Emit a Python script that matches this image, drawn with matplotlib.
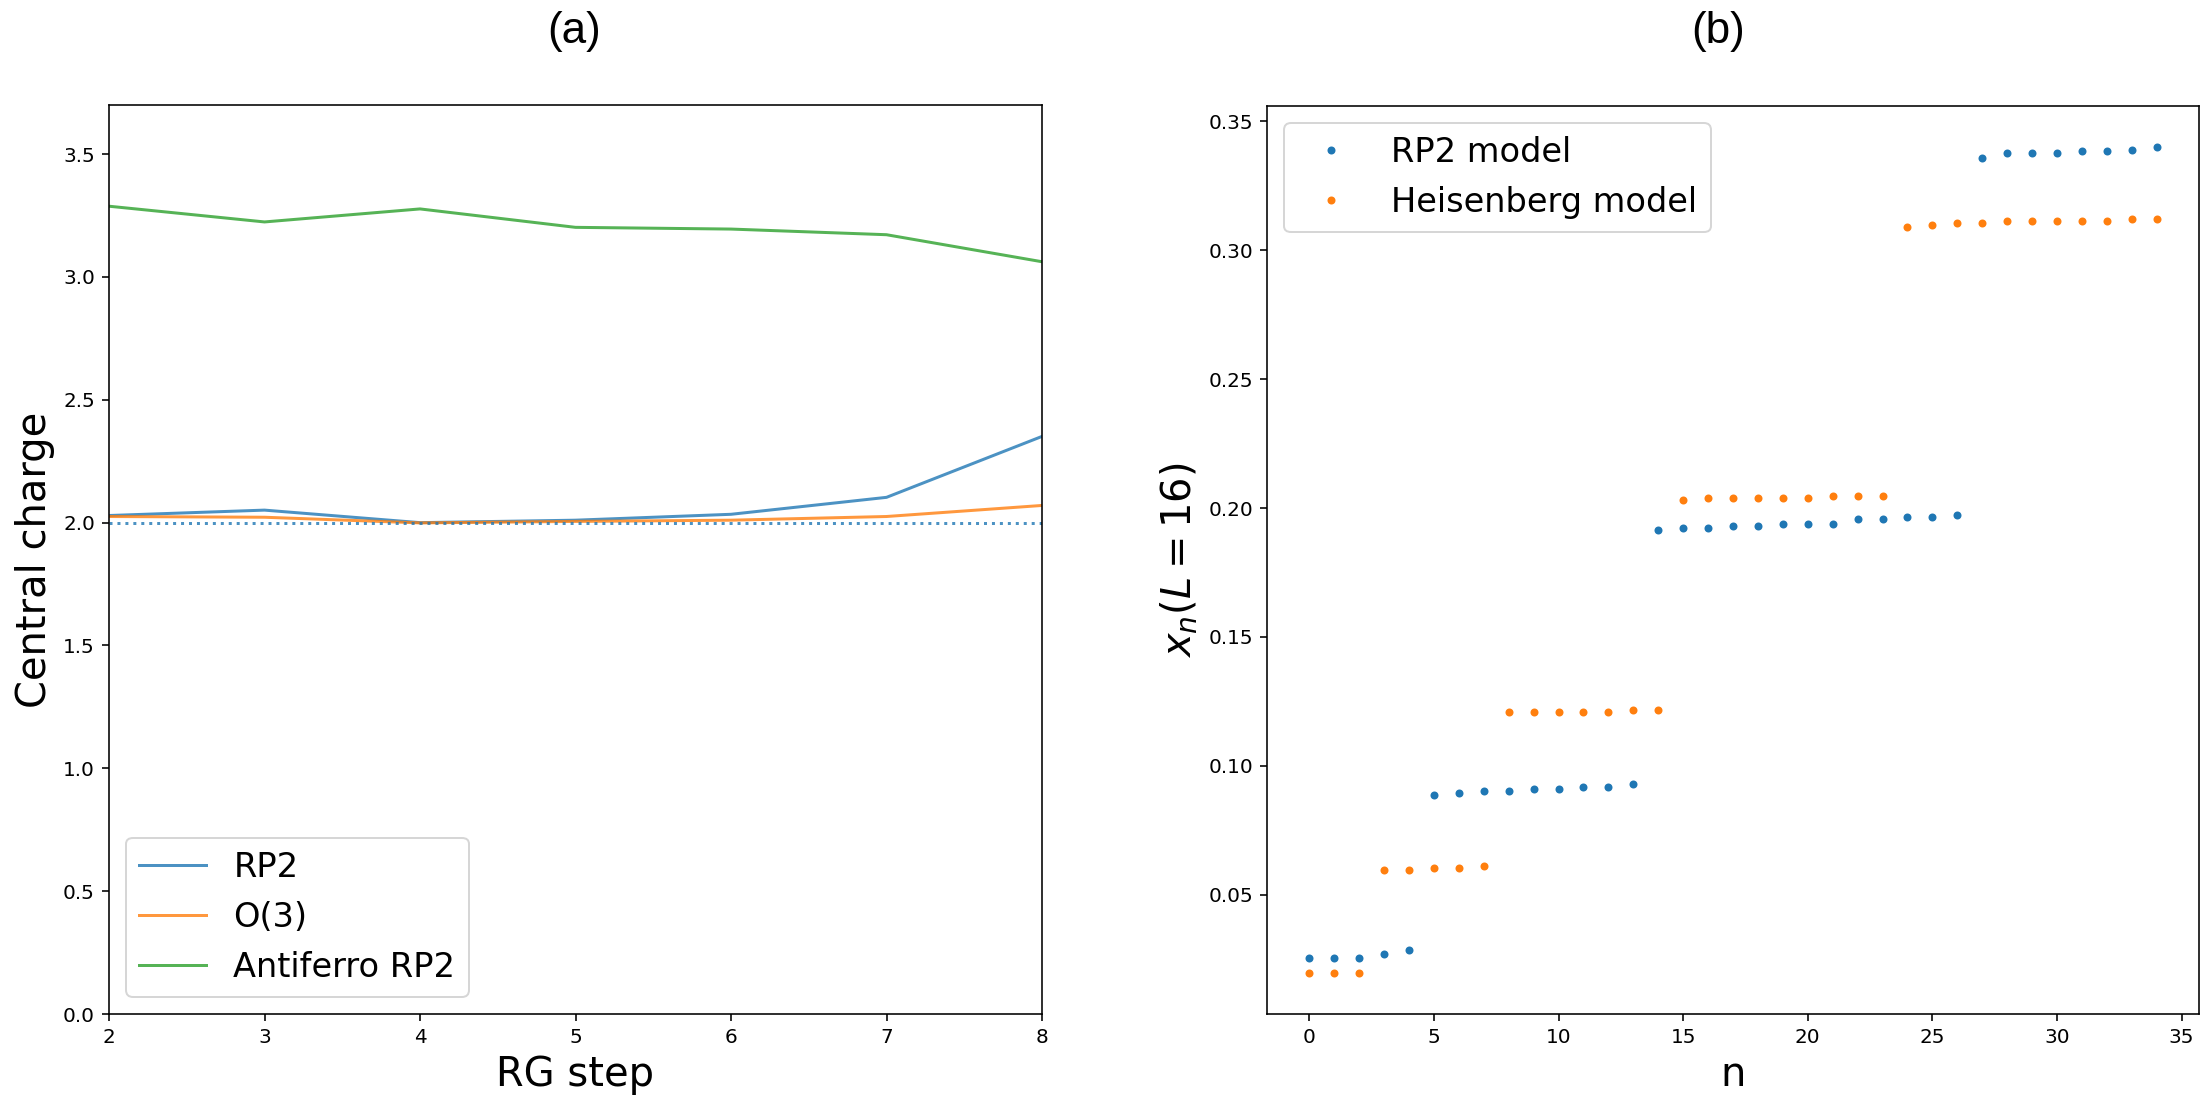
import matplotlib
matplotlib.use("Agg")
import matplotlib.pyplot as plt
import numpy as np

# Panel (a) data
rg_steps = [2, 3, 4, 5, 6, 7, 8]
c_rp2 = [2.029, 2.051, 2.000, 2.010, 2.034, 2.103, 2.351]
c_o3 = [2.025, 2.022, 1.999, 2.005, 2.010, 2.025, 2.070]
c_afrp2 = [3.288, 3.224, 3.277, 3.202, 3.195, 3.172, 3.062]
c_ref = 2.0

# Panel (b) data
n_vals = list(range(35))
x_rp2 = [0.0255, 0.0255, 0.0255, 0.0271, 0.0287,
         0.0888, 0.0895, 0.0903, 0.0903, 0.0911, 0.0911, 0.0920, 0.0920, 0.0928,
         0.1916, 0.1923, 0.1923, 0.1931, 0.1931, 0.1940, 0.1940, 0.1940, 0.1956,
         0.1956, 0.1964, 0.1964, 0.1973,
         0.3358, 0.3375, 0.3375, 0.3375, 0.3383, 0.3383, 0.3390, 0.3399]
x_heis = [0.0198, 0.0198, 0.0198,
          0.0596, 0.0596, 0.0603, 0.0603, 0.0611,
          0.1210, 0.1210, 0.1210, 0.1210, 0.1210, 0.1218, 0.1218,
          0.2030, 0.2038, 0.2038, 0.2038, 0.2038, 0.2038, 0.2045, 0.2045, 0.2045,
          0.3090, 0.3098, 0.3106, 0.3106, 0.3114, 0.3114, 0.3114, 0.3114, 0.3114,
          0.3121, 0.3121]

W, H, DPI = 2204, 1114, 144
fig = plt.figure(figsize=(W / DPI, H / DPI), dpi=DPI)

def box(x0, y0, x1, y1):
    return [x0 / W, 1 - y1 / H, (x1 - x0) / W, (y1 - y0) / H]

ax1 = fig.add_axes(box(109, 105, 1042, 1014))
ax2 = fig.add_axes(box(1267, 106, 2199, 1014))

# Panel (a)
ax1.plot(rg_steps, c_rp2, color="C0", alpha=0.8, label="RP2")
ax1.plot(rg_steps, c_o3, color="C1", alpha=0.8, label="O(3)")
ax1.plot(rg_steps, c_afrp2, color="C2", alpha=0.8, label="Antiferro RP2")
ax1.axhline(c_ref, color="C0", linestyle=":", alpha=0.8)
ax1.set_xlim(2, 8)
ax1.set_ylim(0, 3.7)
ax1.set_yticks(np.arange(0, 3.51, 0.5))
ax1.set_xlabel("RG step", fontsize=20)
ax1.set_ylabel("Central charge", fontsize=20)
ax1.legend(loc="lower left", fontsize=16.8)

# Panel (b)
ax2.plot(n_vals, x_rp2, ".", color="C0", label="RP2 model")
ax2.plot(n_vals, x_heis, ".", color="C1", label="Heisenberg model")
ax2.set_xlabel("n", fontsize=20)
ax2.set_ylabel(r"$x_n(L=16)$", fontsize=20)
ax2.legend(loc="upper left", fontsize=16.8)

fig.text(574 / W, 1 - 31 / H, "(a)", ha="center", va="center",
         fontsize=22, family=["Liberation Sans", "DejaVu Sans"])
fig.text(1718 / W, 1 - 31 / H, "(b)", ha="center", va="center",
         fontsize=22, family=["Liberation Sans", "DejaVu Sans"])

fig.savefig("out.png", dpi=DPI)
